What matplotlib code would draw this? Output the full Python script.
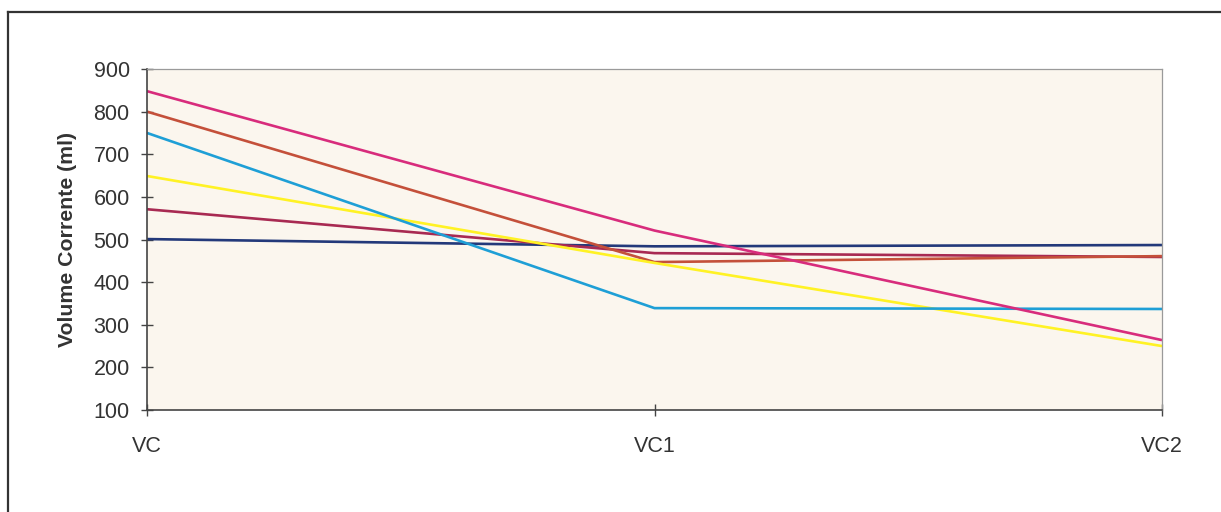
import numpy as np
import matplotlib.pyplot as plt
from matplotlib.lines import Line2D

plt.rcParams['font.family'] = ['Liberation Sans', 'DejaVu Sans']

categorias = ["VC", "VC1", "VC2"]

# volume corrente por paciente (ml)
serie_azul_escuro = [501, 484, 487]
serie_vinho = [571, 468, 459]
serie_tijolo = [800, 447, 461]
serie_amarelo = [649, 445, 250]
serie_ciano = [750, 339, 337]
serie_rosa = [848, 521, 264]

series = [
    (serie_azul_escuro, "#23397A"),
    (serie_vinho, "#A82A52"),
    (serie_tijolo, "#C4503A"),
    (serie_amarelo, "#FFF224"),
    (serie_ciano, "#1E9FD6"),
    (serie_rosa, "#D82C7C"),
]

fig = plt.figure(figsize=(12.21, 5.12), dpi=100)
ax = fig.add_axes([147 / 1221, 1 - 410 / 512, 1015 / 1221, 341 / 512])
ax.set_facecolor("#FBF6EE")

x = np.arange(len(categorias))
for valores, cor in series:
    ax.plot(x, valores, color=cor, linewidth=1.9, solid_capstyle="butt")

ax.set_xlim(0, 2)
ax.set_ylim(100, 900)
ax.set_yticks(np.arange(100, 901, 100))
ax.set_xticks(x)
ax.set_xticklabels(categorias)
ax.tick_params(axis="both", direction="inout", length=9, width=1, color="#444444",
               labelsize=15.5, labelcolor="#333333")
ax.tick_params(axis="x", pad=14)
ax.tick_params(axis="y", pad=8)

for lado in ["left", "bottom"]:
    ax.spines[lado].set_color("#444444")
    ax.spines[lado].set_linewidth(1.2)
for lado in ["top", "right"]:
    ax.spines[lado].set_color("#9A9A9A")
    ax.spines[lado].set_linewidth(0.9)

ax.set_ylabel("Volume Corrente (ml)", fontsize=15.3, fontweight="bold", color="#333333")
ax.yaxis.set_label_coords(-0.069, 0.5)

# moldura externa do gráfico
x0 = 8 / 1221
y0 = 1 - 12 / 512
fig.add_artist(Line2D([x0, x0], [0, y0], transform=fig.transFigure, color="#333333", linewidth=1.6))
fig.add_artist(Line2D([x0, 1], [y0, y0], transform=fig.transFigure, color="#333333", linewidth=1.6))

fig.savefig("out.png", dpi=100)
